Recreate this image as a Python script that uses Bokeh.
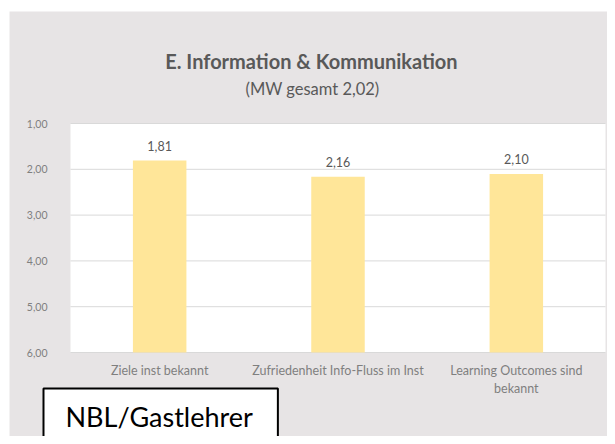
from bokeh.plotting import figure
from bokeh.models import (Range1d, FixedTicker, CustomJSTickFormatter, Label, BoxAnnotation,
                          ColumnDataSource)
from bokeh.core.properties import value
from bokeh.embed import file_html
from bokeh.resources import INLINE

# ---- data ----
categories = ["Ziele inst bekannt", "Zufriedenheit Info-Fluss im Inst", "Learning Outcomes sind\nbekannt"]
means = [1.81, 2.16, 2.10]
y_ticks = [1, 2, 3, 4, 5, 6]
title_text = "E. Information & Kommunikation"
subtitle_text = "(MW gesamt 2,02)"
box_text = "NBL/Gastlehrer"

FONT = "Lato"
GREY_BG = "#E7E4E5"
Y_MIN, Y_MAX = y_ticks[0], y_ticks[-1]
N = len(categories)

xpos = [i + 0.5 for i in range(N)]
labels_txt = [f"{v:.2f}".replace(".", ",") for v in means]
src = ColumnDataSource(dict(x=xpos, val=means, lab=labels_txt))

p = figure(
    width=607, height=436,
    x_range=Range1d(-0.3925, 3.0112),
    y_range=Range1d(start=7.834, end=-1.6856),
    output_backend="svg", toolbar_location=None,
    min_border=0, min_border_left=0, min_border_right=0, min_border_top=0, min_border_bottom=0,
)
p.border_fill_color = "white"
p.background_fill_color = "white"
p.outline_line_color = None

# grey chart panel and white plot area
p.add_layout(BoxAnnotation(left=-0.342, top=-1.4454, fill_color=GREY_BG, fill_alpha=1,
                           line_color=None, level="image"))
p.add_layout(BoxAnnotation(left=0, right=N, top=Y_MIN, bottom=Y_MAX, fill_color="white",
                           fill_alpha=1, line_color=None, level="image"))

# horizontal gridlines
p.segment(x0=[0] * len(y_ticks), x1=[N] * len(y_ticks), y0=y_ticks, y1=y_ticks,
          line_color="#D9D9D9", line_width=1, level="underlay")

p.vbar(x="x", top="val", bottom=Y_MAX, width=0.30, source=src,
       fill_color="#FFE699", line_color=None)

p.text(x="x", y="val", text="lab", source=src, y_offset=-15,
       text_align="center", text_baseline="middle",
       text_font=value(FONT), text_font_size="12.5px", text_color="#595959")

# axes (fixed inside the frame)
p.grid.visible = False
p.yaxis.fixed_location = 0
p.yaxis.ticker = FixedTicker(ticks=y_ticks)
p.yaxis.formatter = CustomJSTickFormatter(code="return tick.toFixed(2).replace('.', ',');")
p.yaxis.axis_line_color = None
p.yaxis.major_tick_line_color = None
p.yaxis.minor_tick_line_color = None
p.yaxis.major_tick_out = 0
p.yaxis.major_tick_in = 0
p.yaxis.major_label_standoff = 23
p.yaxis.major_label_text_font = FONT
p.yaxis.major_label_text_font_size = "10.5px"
p.yaxis.major_label_text_color = "#7F7F7F"

p.xaxis.fixed_location = Y_MAX
p.xaxis.ticker = FixedTicker(ticks=xpos)
p.xaxis.formatter = CustomJSTickFormatter(args=dict(labels=categories),
                                          code="return labels[Math.floor(tick)];")
p.xaxis.axis_line_color = None
p.xaxis.major_tick_line_color = None
p.xaxis.minor_tick_line_color = None
p.xaxis.major_tick_out = 0
p.xaxis.major_tick_in = 0
p.xaxis.major_label_standoff = 10
p.xaxis.major_label_text_font = FONT
p.xaxis.major_label_text_font_size = "12.5px"
p.xaxis.major_label_text_color = "#7F7F7F"

# titles
p.add_layout(Label(x=1.351, y=-0.354, text=title_text,
                   text_align="center", text_baseline="middle", text_font=FONT,
                   text_font_size="20px", text_font_style="bold", text_color="#595959"))
p.add_layout(Label(x=1.357, y=0.236, text=subtitle_text,
                   text_align="center", text_baseline="middle", text_font=FONT,
                   text_font_size="16.5px", text_color="#595959"))

# annotation box (anchored at its top-left corner)
p.add_layout(Label(x=-0.1514, y=6.786, text=box_text,
                   text_align="left", text_baseline="top", text_font=FONT,
                   text_font_size="27px", text_color="black",
                   background_fill_color="white", border_line_color="black", border_line_width=2,
                   padding=dict(left=22, right=25, top=11, bottom=17)))

open("out.html", "w").write(file_html(p, INLINE))
